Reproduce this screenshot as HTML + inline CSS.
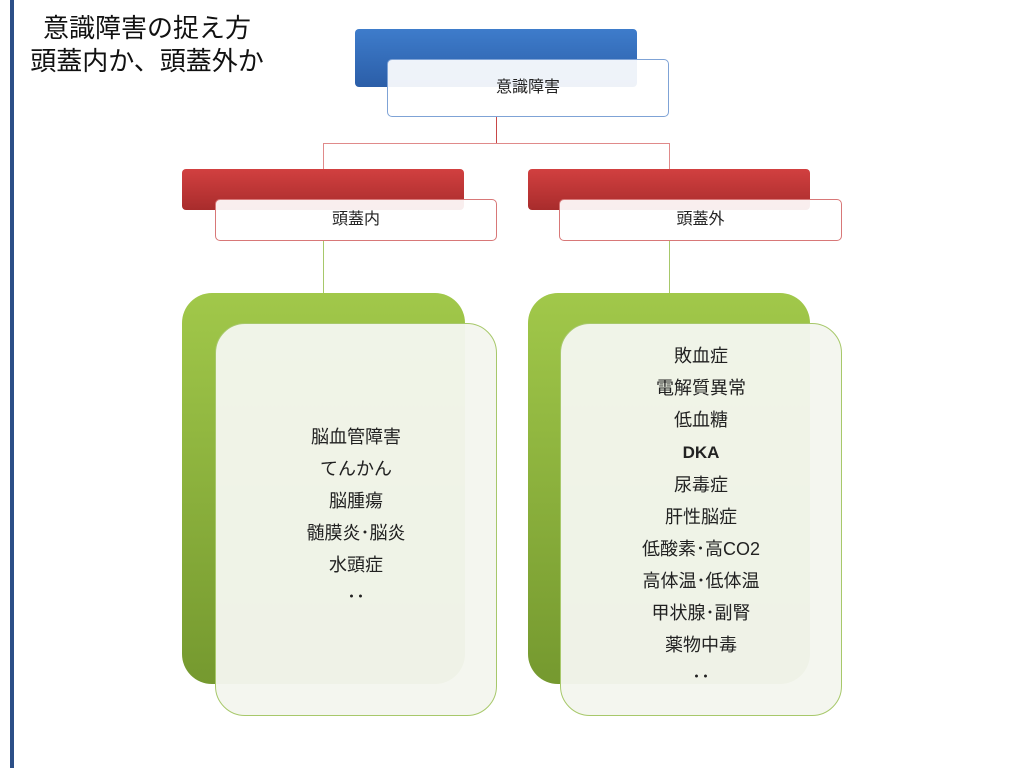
<!DOCTYPE html>
<html><head><meta charset="utf-8"><style>
body{margin:0;width:1024px;height:768px;background:#fff;position:relative;overflow:hidden;font-family:"Liberation Sans","Noto Sans CJK JP",sans-serif;}
.a{position:absolute;box-sizing:border-box;}
.bar{left:10px;top:0;width:4px;height:768px;background:#2c4f87;}
.t{left:16px;top:12px;width:262px;text-align:center;font-size:26px;line-height:33px;color:#111;}
.blue{background:linear-gradient(#3e7ccb,#2b5ea8);border-radius:4px;}
.red{background:linear-gradient(#d24040,#a82c2c);border-radius:4px;}
.fr{background:rgba(255,255,255,0.92);border-radius:5px;text-align:center;font-size:16px;color:#222;}
.green{background:linear-gradient(#a1c84a,#75992f);border-radius:30px;}
.gf{background:rgba(244,246,238,0.96);border:1px solid #a7c86a;border-radius:30px;text-align:center;font-size:18px;color:#222;line-height:32px;}
.ln{background:#c84848;}
.gl{background:#a7c86a;}
</style></head><body>
<div class="a bar"></div>
<div class="a t">意識障害の捉え方<br>頭蓋内か、頭蓋外か</div>

<div class="a ln" style="left:496px;top:117px;width:1px;height:26px"></div>
<div class="a ln" style="left:323px;top:143px;width:347px;height:1px;background:#e08a8a"></div>
<div class="a ln" style="left:323px;top:143px;width:1px;height:27px;background:#e08a8a"></div>
<div class="a ln" style="left:669px;top:143px;width:1px;height:27px;background:#e08a8a"></div>

<div class="a blue" style="left:355px;top:29px;width:282px;height:58px"></div>
<div class="a fr" style="left:387px;top:59px;width:282px;height:58px;border:1px solid #7fa3d6;line-height:56px">意識障害</div>

<div class="a red" style="left:182px;top:169px;width:282px;height:41px"></div>
<div class="a fr" style="left:215px;top:199px;width:282px;height:42px;border:1px solid #d87878;line-height:40px">頭蓋内</div>
<div class="a red" style="left:528px;top:169px;width:282px;height:41px"></div>
<div class="a fr" style="left:559px;top:199px;width:283px;height:42px;border:1px solid #d87878;line-height:40px">頭蓋外</div>

<div class="a gl" style="left:323px;top:241px;width:1px;height:52px"></div>
<div class="a gl" style="left:669px;top:241px;width:1px;height:52px"></div>

<div class="a green" style="left:182px;top:293px;width:283px;height:391px"></div>
<div class="a gf" style="left:215px;top:323px;width:282px;height:393px;padding-top:97px">脳血管障害<br>てんかん<br>脳腫瘍<br>髄膜炎･脳炎<br>水頭症<br>･･</div>
<div class="a green" style="left:528px;top:293px;width:282px;height:391px"></div>
<div class="a gf" style="left:560px;top:323px;width:282px;height:393px;padding-top:16px">敗血症<br>電解質異常<br>低血糖<br><b style="font-size:17px">DKA</b><br>尿毒症<br>肝性脳症<br>低酸素･高CO2<br>高体温･低体温<br>甲状腺･副腎<br>薬物中毒<br>･･</div>
</body></html>
